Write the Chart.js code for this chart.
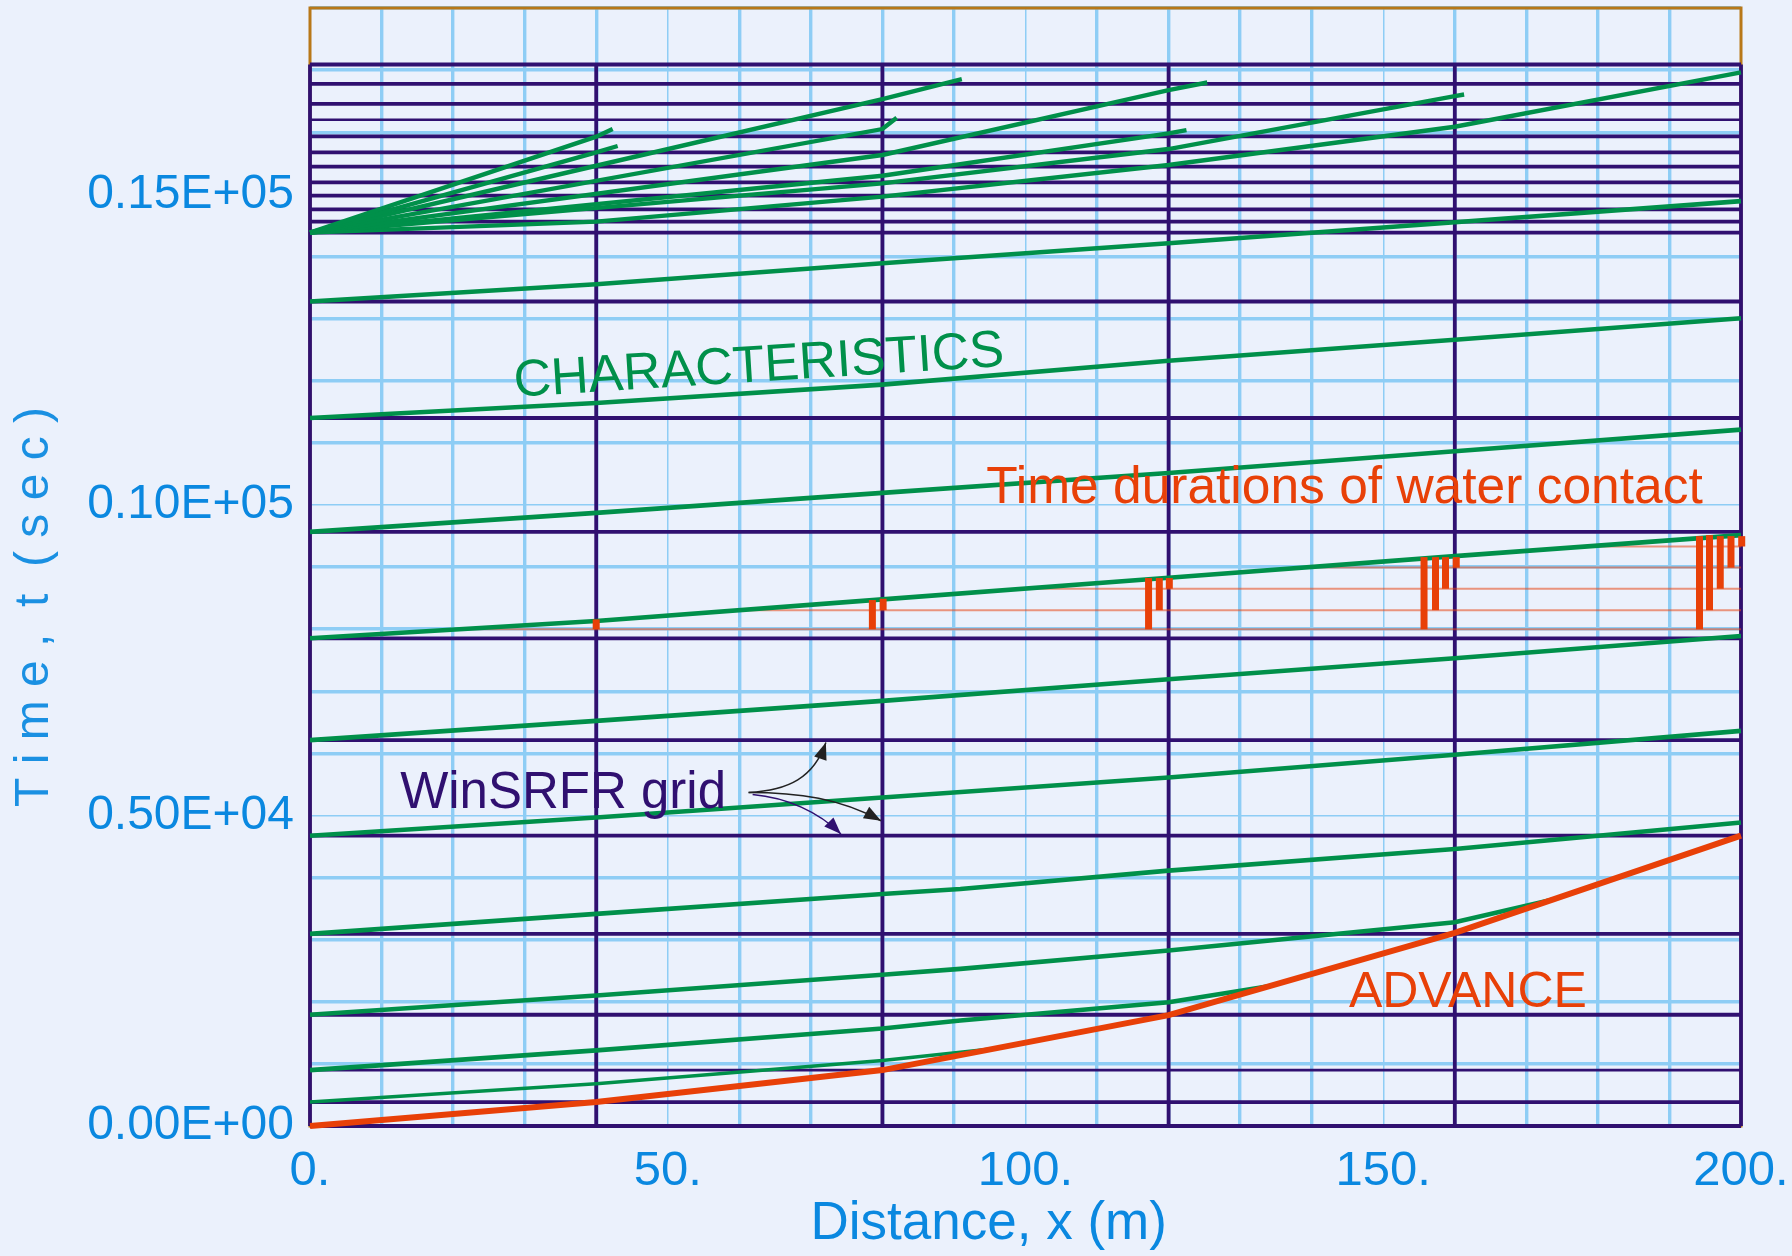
<!DOCTYPE html>
<html>
<head>
<meta charset="utf-8">
<title>WinSRFR grid and characteristics</title>
<script src="https://cdn.jsdelivr.net/npm/chart.js@4.4.1/dist/chart.umd.min.js"></script>
<style>
  html, body { margin: 0; padding: 0; background: #ebf1fc; }
  #wrap { width: 1792px; height: 1256px; }
</style>
</head>
<body>
<div id="wrap"><canvas id="chart" width="1792" height="1256"></canvas></div>
<script>
// ---- values (x in m, t in s) ----
const xTickValues = [0, 50, 100, 150, 200];
const xTickLabels = ['0.', '50.', '100.', '150.', '200.'];
const yTickValues = [0, 5000, 10000, 15000];
const yTickLabels = ['0.00E+00', '0.50E+04', '0.10E+05', '0.15E+05'];

// WinSRFR computational grid
const gridNodesX = [0, 40, 80, 120, 160, 200];
const gridLevelsT = [0, 386, 900, 1791, 3093, 4674, 6212, 7852, 9566, 11399, 13275,
  14384, 14561, 14759, 14979, 15193, 15445, 15675, 15932, 16201, 16458, 16780, 17090];
const thinLevelsT = [900, 16201];

// advance trajectory at the grid nodes
const advanceT = [0, 386, 900, 1785, 3110, 4674];

// characteristics as [x, t] pairs
const charA = [[0, 386], [40, 681], [80, 1056], [95.5, 1243]];
const charB = [[0, 900], [40, 1217], [80, 1570], [90.9, 1699], [120, 1993], [134.2, 2255]];
const charC = [[0, 1791], [40, 2101], [80, 2434], [90.9, 2530], [120, 2825], [160, 3280], [173.6, 3642]];
const charD = [[0, 3093], [40, 3415], [80, 3736], [90.9, 3816], [120, 4111], [160, 4460], [200, 4887]];
const charE = [[0, 4674], [40, 4968], [80, 5290], [120, 5611], [160, 5976], [200, 6362]];
const charF = [[0, 6212], [40, 6523], [80, 6844], [120, 7193], [160, 7531], [200, 7889]];
const charG = [[0, 7852], [40, 8130], [80, 8479], [120, 8826], [160, 9175], [200, 9513]];
const charH = [[0, 9566], [40, 9871], [80, 10193], [120, 10514], [160, 10863], [200, 11212]];
const charI = [[0, 11399], [40, 11640], [80, 11936], [120, 12321], [160, 12659], [200, 13006]];
const charJ = [[0, 13275], [40, 13553], [80, 13891], [120, 14212], [160, 14550], [200, 14890]];
// fan issuing from the cut-off point
const fan1 = [[0, 14384], [40, 15928], [42.3, 16051]];
const fan2 = [[0, 14384], [40, 15675], [43, 15778]];
const fan3 = [[0, 14384], [40, 15460], [80, 16534], [91.1, 16855]];
const fan4 = [[0, 14384], [80, 16051], [82, 16233]];
const fan5 = [[0, 14384], [80, 15633], [120, 16678], [125.4, 16801]];
const fan6 = [[0, 14384], [80, 15300], [120, 15981], [122.5, 16035]];
const fan7 = [[0, 14384], [80, 15177], [120, 15729], [160, 16582], [161.3, 16608]];
const fan8 = [[0, 14384], [40, 14561], [80, 14963], [120, 15472], [160, 16088], [200, 16963]];

// time durations of water contact
const contactLevelsT = [7997, 8305, 8650, 8990, 9330];
const contactStartX = [20, 60, 100, 140, 180];
const barX = [40, 78.6, 80.1, 117.2, 118.7, 120.1, 155.7, 157.3, 158.7, 160.2, 194.2, 195.6, 197.1, 198.6, 200.1];
const barBottomT = [7997, 7997, 8305, 7997, 8305, 8650, 7997, 8305, 8650, 8990, 7997, 8305, 8650, 8990, 9330];
const barTopT = [8157, 8468, 8489, 8822, 8822, 8822, 9159, 9159, 9159, 9159, 9497, 9513, 9497, 9497, 9497];

// ---- colours ----
const TICK_BLUE = '#0a88e0';
const LIGHT_BLUE = '#8ecdf5';
const DARK = '#301070';
const GREEN = '#00904a';
const ORANGE = '#e84008';
const FRAME = '#b87818';

const pts = arr => arr.map(p => ({ x: p[0], y: p[1] }));

function lineSet(data, color, width, order) {
    return {
        data: data,
        showLine: true,
        borderColor: color,
        borderWidth: width,
        borderCapStyle: 'butt',
        pointRadius: 0,
        pointHoverRadius: 0,
        fill: false,
        tension: 0,
        clip: false,
        order: order
    };
}

const datasets = [];

// dark WinSRFR grid
gridLevelsT.forEach(t => {
    datasets.push(lineSet([{ x: 0, y: t }, { x: 200, y: t }], DARK, thinLevelsT.includes(t) ? 2.6 : 3.8, 6));
});
gridNodesX.forEach(x => {
    datasets.push(lineSet([{ x: x, y: 0 }, { x: x, y: gridLevelsT[gridLevelsT.length - 1] }], DARK, 3.8, 6));
});

// contact level lines
contactLevelsT.forEach((t, i) => {
    datasets.push(lineSet([{ x: contactStartX[i], y: t }, { x: 200, y: t }], 'rgba(232,70,20,0.55)', 2, 5));
});

// characteristics
[charA, charB, charC, charD, charE, charF, charG, charH, charI, charJ].forEach((c, i) => {
    datasets.push(lineSet(pts(c), GREEN, i === 0 ? 3.5 : 4.6, 4));
});
[fan1, fan2, fan3, fan4, fan5, fan6, fan7, fan8].forEach(c => {
    datasets.push(lineSet(pts(c), GREEN, 4.4, 4));
});

// contact bars
barX.forEach((x, i) => {
    datasets.push(lineSet([{ x: x, y: barBottomT[i] }, { x: x, y: barTopT[i] }], ORANGE, 7, 3));
});

// advance
datasets.push(lineSet(gridNodesX.map((x, i) => ({ x: x, y: advanceT[i] })), ORANGE, 6, 1));

function arrow(ctx, x0, y0, c1x, c1y, c2x, c2y, x1, y1, color) {
    ctx.strokeStyle = color;
    ctx.fillStyle = color;
    ctx.lineWidth = 1.5;
    ctx.beginPath();
    ctx.moveTo(x0, y0);
    ctx.bezierCurveTo(c1x, c1y, c2x, c2y, x1, y1);
    ctx.stroke();
    const a = Math.atan2(y1 - c2y, x1 - c2x);
    const L = 17, W = 6.5;
    ctx.beginPath();
    ctx.moveTo(x1, y1);
    ctx.lineTo(x1 - L * Math.cos(a) + W * Math.sin(a), y1 - L * Math.sin(a) - W * Math.cos(a));
    ctx.lineTo(x1 - L * Math.cos(a) - W * Math.sin(a), y1 - L * Math.sin(a) + W * Math.cos(a));
    ctx.closePath();
    ctx.fill();
}

// frame, labels and arrows
const notes = {
    id: 'notes',
    beforeDatasetsDraw(chart) {
        const { ctx, chartArea: a } = chart;
        ctx.save();
        ctx.strokeStyle = FRAME;
        ctx.lineWidth = 3;
        ctx.strokeRect(a.left, a.top, a.right - a.left, a.bottom - a.top);
        ctx.restore();
    },
    afterDatasetsDraw(chart) {
        const { ctx } = chart;
        const xs = chart.scales.x, ys = chart.scales.y;
        const px = v => xs.getPixelForValue(v);
        const py = v => ys.getPixelForValue(v);
        ctx.save();
        ctx.textBaseline = 'alphabetic';
        ctx.textAlign = 'left';

        ctx.save();
        ctx.translate(px(28.6), py(11741));
        ctx.rotate(-3.6 * Math.PI / 180);
        ctx.font = '52px "Liberation Sans", Arial, sans-serif';
        ctx.fillStyle = GREEN;
        ctx.fillText('CHARACTERISTICS', 0, 0);
        ctx.restore();

        ctx.font = '51.5px "Liberation Sans", Arial, sans-serif';
        ctx.fillStyle = ORANGE;
        ctx.fillText('Time durations of water contact', px(94.5), py(10025));

        ctx.font = '50px "Liberation Sans", Arial, sans-serif';
        ctx.fillText('ADVANCE', px(145.2), py(1913));

        ctx.font = '51px "Liberation Sans", Arial, sans-serif';
        ctx.fillStyle = DARK;
        ctx.fillText('WinSRFR grid', px(12.6), py(5124));

        // arrows from the label to the grid lines
        const ox = px(61.3), oy = py(5370);
        const t1x = px(72.1), t1y = py(6174);
        const t2x = px(79.8), t2y = py(4915);
        const t3x = px(74.2), t3y = py(4701);
        arrow(ctx, ox, oy, ox + 40, oy - 2, t1x - 12, t1y + 35, t1x, t1y, '#222222');
        arrow(ctx, ox, oy, ox + 50, oy, t2x - 40, t2y - 22, t2x, t2y, '#222222');
        arrow(ctx, ox + 4, oy + 2, ox + 38, oy + 5, t3x - 22, t3y - 22, t3x, t3y, DARK);
        ctx.restore();
    }
};

new Chart(document.getElementById('chart'), {
    type: 'scatter',
    data: { datasets: datasets },
    options: {
        responsive: false,
        animation: false,
        devicePixelRatio: 1,
        layout: { padding: { top: 8, right: 51, bottom: 0, left: 0 } },
        plugins: { legend: { display: false }, tooltip: { enabled: false } },
        events: [],
        scales: {
            x: {
                type: 'linear',
                min: 0,
                max: 200,
                afterFit: s => {
                    s.height = 130;
                    s.paddingLeft = 0;
                    s.paddingRight = 0;
                },
                border: { display: false },
                grid: {
                    color: LIGHT_BLUE,
                    drawTicks: false,
                    lineWidth: c => (c.tick && Math.round(c.tick.value) % 50 === 0) ? 1.5 : 3.4
                },
                ticks: {
                    stepSize: 10,
                    autoSkip: false,
                    maxRotation: 0,
                    padding: 16,
                    color: TICK_BLUE,
                    font: { family: '"Liberation Sans", Arial, sans-serif', size: 49 },
                    callback: v => {
                        const i = xTickValues.indexOf(Math.round(v));
                        return i < 0 ? '' : xTickLabels[i];
                    }
                },
                title: {
                    display: true,
                    text: 'Distance, x (m)     ',
                    color: TICK_BLUE,
                    font: { family: '"Liberation Sans", Arial, sans-serif', size: 53 },
                    padding: { top: 0, bottom: 0 }
                }
            },
            y: {
                type: 'linear',
                min: 0,
                max: 18000,
                afterFit: s => {
                    s.width = 310;
                    s.paddingTop = 0;
                    s.paddingBottom = 0;
                },
                border: { display: false },
                grid: {
                    color: LIGHT_BLUE,
                    drawTicks: false,
                    lineWidth: c => (c.tick && Math.round(c.tick.value) % 5000 === 0) ? 1.5 : 3.4
                },
                ticks: {
                    stepSize: 1000,
                    autoSkip: false,
                    padding: 16,
                    color: TICK_BLUE,
                    font: { family: '"Liberation Sans Narrow", "Liberation Sans", Arial, sans-serif', size: 48 },
                    callback: v => {
                        const i = yTickValues.indexOf(Math.round(v));
                        return i < 0 ? '' : yTickLabels[i];
                    }
                },
                title: {
                    display: true,
                    text: 'T i m e ,  t  ( s e c )      ',
                    color: '#1a90e2',
                    font: { family: '"Liberation Sans", Arial, sans-serif', size: 48 },
                    padding: { top: 6, bottom: 0 }
                }
            }
        }
    },
    plugins: [notes]
});
</script>
</body>
</html>
